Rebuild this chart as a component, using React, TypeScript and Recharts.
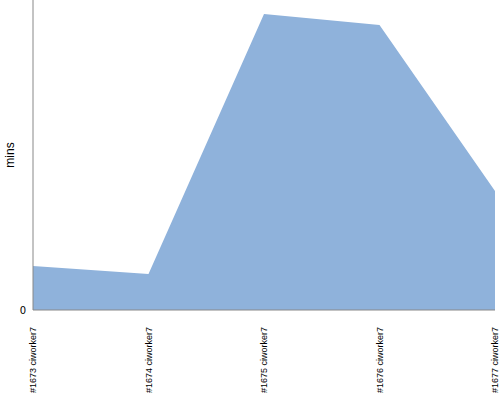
import { Area, AreaChart, XAxis, YAxis, Label } from 'recharts';

const builds = ['#1673 ciworker7', '#1674 ciworker7', '#1675 ciworker7', '#1676 ciworker7', '#1677 ciworker7'];
const durations = [4.4, 3.6, 29.6, 28.5, 11.9];
const yTicks = [0];

const data = builds.map((label, i) => ({ label, mins: durations[i] }));

const BuildTick = (props: any) => {
  const { x, y, payload } = props;
  return (
    <text
      x={0}
      y={0}
      dy="0.35em"
      transform={`translate(${x},${y + 9}) rotate(-90)`}
      textAnchor="end"
      fontSize={9}
      fontFamily="'Liberation Sans Narrow', 'Arial Narrow', sans-serif"
      fill="#000"
    >
      {payload.value}
    </text>
  );
};

export default function App() {
  return (
    <div style={{ position: 'absolute', left: 0, top: 0, background: '#fff' }}>
      <AreaChart width={500} height={400} data={data} margin={{ top: 0, right: 5, left: 0, bottom: 0 }}>
        <XAxis
          dataKey="label"
          interval={0}
          height={90}
          tickLine={false}
          stroke="#888"
          tick={<BuildTick />}
        />
        <YAxis
          width={33}
          domain={[0, 31]}
          ticks={yTicks}
          tickLine={false}
          stroke="#888"
          tick={{ fontSize: 10, fill: '#000', fontFamily: 'DejaVu Sans, sans-serif' }}
          tickMargin={1}
        >
          <Label value="mins" angle={-90} position="insideLeft" offset={10} style={{ fontSize: 12, fill: '#000', fontFamily: 'Liberation Sans, Arial, sans-serif', textAnchor: 'middle' }} />
        </YAxis>
        <Area
          type="linear"
          dataKey="mins"
          stroke="none"
          fill="#8fb2db"
          fillOpacity={1}
          isAnimationActive={false}
        />
      </AreaChart>
    </div>
  );
}
